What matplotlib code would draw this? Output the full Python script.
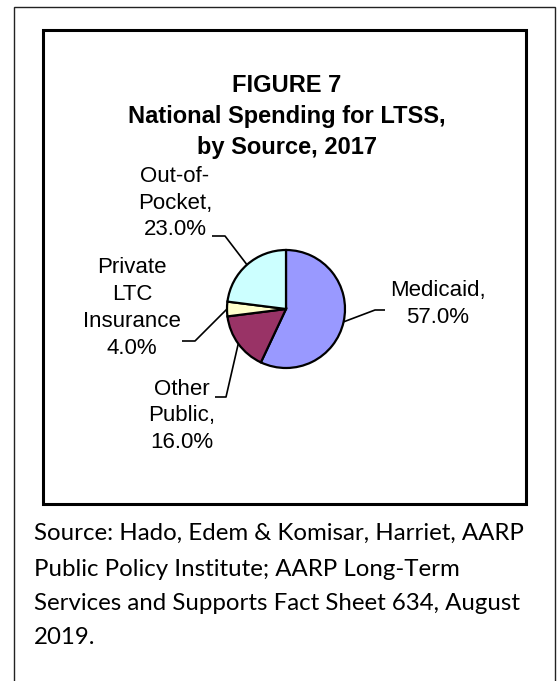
import matplotlib
matplotlib.use("Agg")
import matplotlib.pyplot as plt
import numpy as np
from matplotlib.patches import Rectangle

# ---- data ----
categories = ["Medicaid", "Other Public", "Private LTC Insurance", "Out-of-Pocket"]
label_texts = ["Medicaid,", "Other\nPublic,", "Private\nLTC\nInsurance", "Out-of-\nPocket,"]
values = [57.0, 16.0, 4.0, 23.0]
colors = ["#9999FF", "#993366", "#FFFFCC", "#CCFFFF"]
title_lines = ["FIGURE 7", "National Spending for LTSS,", "by Source, 2017"]
source_lines = [
    "Source: Hado, Edem & Komisar, Harriet, AARP",
    "Public Policy Institute; AARP Long-Term",
    "Services and Supports Fact Sheet 634, August",
    "2019.",
]

W, H = 557, 681
DPI = 100
fig = plt.figure(figsize=(W / DPI, H / DPI), dpi=DPI)
ax = fig.add_axes([0, 0, 1, 1])


def Y(ypx):
    return H - ypx


# pie
cx, cy, r = 286, 309, 59
wedges, _ = ax.pie(values, colors=colors, startangle=90, counterclock=False,
                   center=(cx, Y(cy)), radius=r,
                   wedgeprops=dict(edgecolor="black", linewidth=1.6))
ax.set_xlim(0, W)
ax.set_ylim(0, H)
ax.set_aspect("auto")
ax.axis("off")

# borders
ax.add_patch(Rectangle((13.5, Y(700)), 541.5, 700 - 7, fill=False,
                       edgecolor="#222222", linewidth=1.0))
ax.add_patch(Rectangle((43, Y(504)), 483, 504 - 30, fill=False,
                       edgecolor="black", linewidth=2.2))

# title (baselines)
title_y = [92, 123, 154]
for t, yy in zip(title_lines, title_y):
    ax.text(287, Y(yy), t, ha="center", va="baseline", fontsize=17,
            fontweight="bold", family="Liberation Sans")

# labels: (text x, text center y, elbow x, elbow y, end x)
label_layout = [
    (438, 304, 375, 310, 385),
    (182, 416, 226, 397, 215),
    (132, 308, 195, 341, 182),
    (175, 203, 225, 236, 212),
]
for w, lt, val, (tx, ty, ex, ey, hx) in zip(wedges, label_texts, values, label_layout):
    mid = np.deg2rad((w.theta1 + w.theta2) / 2)
    px = cx + r * np.cos(mid)
    py = Y(cy) + r * np.sin(mid)
    ax.plot([px, ex, hx], [py, Y(ey), Y(ey)], color="black", linewidth=1.2,
            solid_capstyle="butt")
    label = f"{lt}\n{val:.1f}%"
    ax.text(tx, Y(ty), label, ha="center", va="center", fontsize=16,
            family="Liberation Sans", linespacing=1.36, multialignment="center")

# source
src_y = [533, 569, 603, 638]
for s, yy in zip(source_lines, src_y):
    ax.text(34, Y(yy), s, ha="left", va="center", fontsize=17.25, family="Lato")

fig.savefig("out.png", dpi=DPI)
